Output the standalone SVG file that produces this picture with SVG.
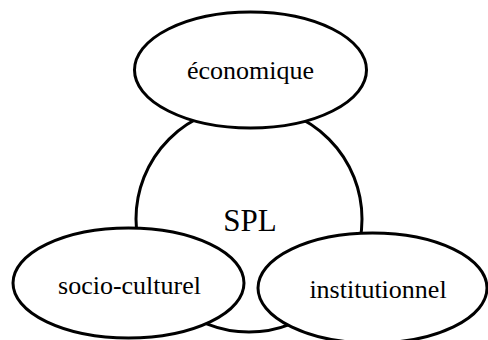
<svg xmlns="http://www.w3.org/2000/svg" width="488" height="340" viewBox="0 0 488 340">
<style>
.shape{fill:#fff;stroke:#000;stroke-width:3}
.lbl{font-family:"Liberation Serif","Times New Roman",serif;font-size:26px;fill:#000;text-anchor:middle}
</style>
<rect width="488" height="340" fill="#fff"/>
<g id="spl">
<circle class="shape" cx="249" cy="219" r="113"/>
<text class="lbl" x="250" y="231" style="font-size:31px">SPL</text>
</g>
<g id="economique">
<ellipse class="shape" cx="250.5" cy="70" rx="116" ry="58"/>
<text class="lbl" x="250.5" y="79">économique</text>
</g>
<g id="socio-culturel">
<ellipse class="shape" cx="128.5" cy="283" rx="115.5" ry="55"/>
<text class="lbl" x="129.5" y="294">socio-culturel</text>
</g>
<g id="institutionnel">
<ellipse class="shape" cx="372.5" cy="288" rx="114.5" ry="55"/>
<text class="lbl" x="378" y="298">institutionnel</text>
</g>
<g id="connectors"/>
</svg>
